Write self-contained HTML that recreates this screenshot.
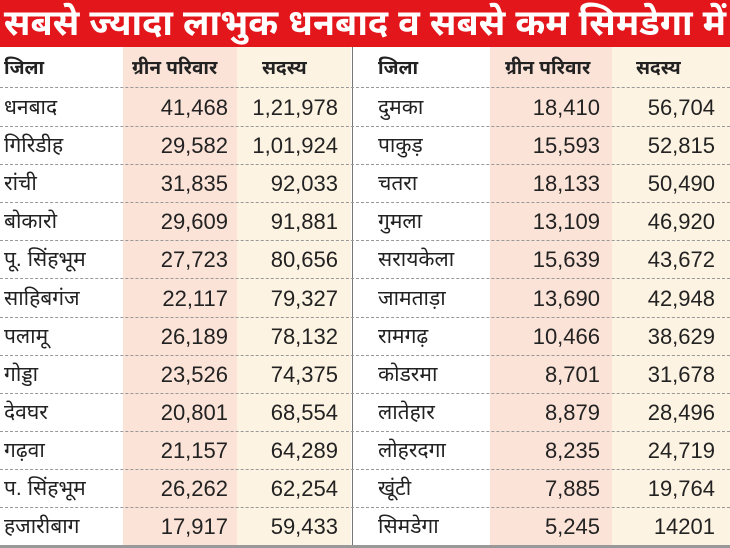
<html><head><style>
body{margin:0;width:730px;height:548px;overflow:hidden;background:#fff;font-family:"Liberation Sans","Noto Sans Devanagari",sans-serif;position:relative}
.t{position:absolute;left:0;top:0;width:730px;height:47px;background:#e3161b;color:#fff;font-size:36px;font-weight:bold;text-align:center;line-height:45px;white-space:nowrap}
.c{position:absolute;top:47px;height:498px}
.r{position:absolute;left:0;width:730px;height:38px;border-bottom:1px dashed #999;font-size:22px;line-height:40px;color:#222}
.r span{position:absolute}
.n{font-size:21px}
.h{font-weight:bold;font-size:19px}
</style></head><body>
<div class="t">सबसे ज्यादा लाभुक धनबाद व सबसे कम सिमडेगा में</div>
<div class="c" style="left:123px;width:114px;background:#fbe3d8"></div>
<div class="c" style="left:237px;width:114px;background:#fdf3e2"></div>
<div class="c" style="left:490px;width:122px;background:#fbe3d8"></div>
<div class="c" style="left:612px;width:118px;background:#fdf3e2"></div>
<div style="position:absolute;left:352px;top:47px;width:1px;height:498px;background:#777"></div>
<div style="position:absolute;left:0;top:545px;width:730px;height:3px;background:#999"></div>
<div id="rows"></div>
<script>
var L=[["धनबाद","41,468","1,21,978"],["गिरिडीह","29,582","1,01,924"],["रांची","31,835","92,033"],["बोकारो","29,609","91,881"],["पू. सिंहभूम","27,723","80,656"],["साहिबगंज","22,117","79,327"],["पलामू","26,189","78,132"],["गोड्डा","23,526","74,375"],["देवघर","20,801","68,554"],["गढ़वा","21,157","64,289"],["प. सिंहभूम","26,262","62,254"],["हजारीबाग","17,917","59,433"]];
var R=[["दुमका","18,410","56,704"],["पाकुड़","15,593","52,815"],["चतरा","18,133","50,490"],["गुमला","13,109","46,920"],["सरायकेला","15,639","43,672"],["जामताड़ा","13,690","42,948"],["रामगढ़","10,466","38,629"],["कोडरमा","8,701","31,678"],["लातेहार","8,879","28,496"],["लोहरदगा","8,235","24,719"],["खूंटी","7,885","19,764"],["सिमडेगा","5,245","14201"]];
var h='<div class="r h" style="top:49px"><span style="left:4px">जिला</span><span style="left:132px">ग्रीन परिवार</span><span style="left:262px">सदस्य</span><span style="left:378px">जिला</span><span style="left:505px">ग्रीन परिवार</span><span style="left:636px">सदस्य</span></div>';
for(var i=0;i<12;i++){var t=88+i*38.1;var a=L[i],b=R[i];
h+='<div class="r" style="top:'+t+'px;'+(i==11?'border:none':'')+'"><span class="n" style="left:4px">'+a[0]+'</span><span style="right:502px">'+a[1]+'</span><span style="right:392px">'+a[2]+'</span><span class="n" style="left:378px">'+b[0]+'</span><span style="right:130px">'+b[1]+'</span><span style="right:15px">'+b[2]+'</span></div>';}
document.getElementById('rows').innerHTML=h;
</script>
</body></html>
